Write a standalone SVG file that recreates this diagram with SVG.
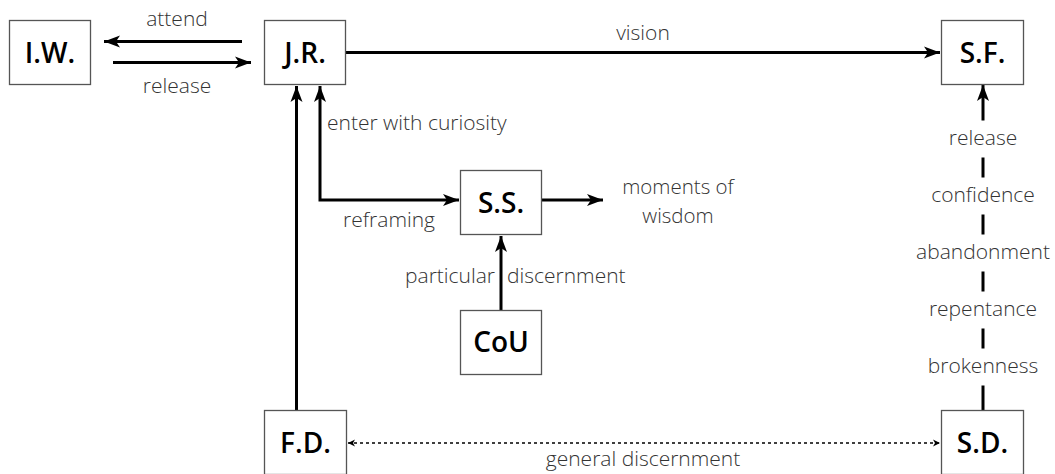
<svg xmlns="http://www.w3.org/2000/svg" width="1055" height="474" viewBox="0 0 1055 474">
<style>
.box{fill:#fff;stroke:#555;stroke-width:1.3}
.nt{font-family:"Open Sans","Liberation Sans",sans-serif;font-weight:600;font-size:28px;fill:#000;text-anchor:middle}
.lb{font-family:"Open Sans","Liberation Sans",sans-serif;font-weight:300;font-size:21px;fill:#333}
.c{stroke:#000;stroke-width:3;fill:none}
.d{stroke:#000;stroke-width:1.3;fill:none;stroke-dasharray:3 3}
</style>
<defs>
<marker id="ah" markerUnits="userSpaceOnUse" markerWidth="20" markerHeight="16" viewBox="-17 -8 20 16" refX="0" refY="0" orient="auto-start-reverse">
<path d="M0,0 L-16,-6 L-12,0 L-16,6 Z" fill="#000"/>
</marker>
<marker id="as" markerUnits="userSpaceOnUse" markerWidth="10" markerHeight="8" viewBox="-8 -4 10 8" refX="0" refY="0" orient="auto-start-reverse">
<path d="M0,0 L-7,-3.5 L-5,0 L-7,3.5 Z" fill="#000"/>
</marker>
</defs>
<g id="connectors">
<path class="c" d="M242,41.5 L104,41.5" marker-end="url(#ah)"/>
<path class="c" d="M113,62.5 L251,62.5" marker-end="url(#ah)"/>
<path class="c" d="M346,52.5 L940,52.5" marker-end="url(#ah)"/>
<path class="c" d="M296.5,410 L296.5,86" marker-end="url(#ah)"/>
<path class="c" d="M320,86 L320,200 L459,200" marker-start="url(#ah)" marker-end="url(#ah)"/>
<path class="c" d="M542,200 L603,200" marker-end="url(#ah)"/>
<path class="c" d="M501,310 L501,236" marker-end="url(#ah)"/>
<path class="c" d="M983,410 L983,385.5 M983,348.5 L983,328.5 M983,291.5 L983,271.5 M983,234.5 L983,214.5 M983,177.5 L983,157.5 M983,120.5 L983,85" marker-end="url(#ah)"/>
<path class="d" d="M348,443 L940,443" marker-start="url(#as)" marker-end="url(#as)"/>
<text class="lb" x="177" y="26" text-anchor="middle">attend</text>
<text class="lb" x="177" y="93" text-anchor="middle">release</text>
<text class="lb" x="643" y="40" text-anchor="middle">vision</text>
<text class="lb" x="327" y="130">enter with curiosity</text>
<text class="lb" x="435" y="227" text-anchor="end">reframing</text>
<text class="lb" text-anchor="middle" style="font-size:20.5px"><tspan x="678" y="194">moments of</tspan><tspan x="678" y="222.5">wisdom</tspan></text>
<text class="lb" x="495" y="283" text-anchor="end">particular</text>
<text class="lb" x="507" y="283">discernment</text>
<text class="lb" x="643" y="466" text-anchor="middle">general discernment</text>
<text class="lb" x="983" y="145" text-anchor="middle">release</text>
<text class="lb" x="983" y="202" text-anchor="middle">confidence</text>
<text class="lb" x="983" y="259" text-anchor="middle">abandonment</text>
<text class="lb" x="983" y="316" text-anchor="middle">repentance</text>
<text class="lb" x="983" y="373" text-anchor="middle">brokenness</text>
</g>
<g id="IW"><rect class="box" x="9.5" y="20.5" width="81" height="64"/><text class="nt" x="50" y="63">I.W.</text></g>
<g id="JR"><rect class="box" x="264.5" y="20.5" width="81" height="64"/><text class="nt" x="305" y="63">J.R.</text></g>
<g id="SF"><rect class="box" x="941.5" y="20.5" width="82" height="64"/><text class="nt" x="982.5" y="63">S.F.</text></g>
<g id="SS"><rect class="box" x="460.5" y="170.5" width="81" height="64"/><text class="nt" x="501" y="213">S.S.</text></g>
<g id="CoU"><rect class="box" x="460.5" y="310.5" width="81" height="64"/><text class="nt" x="501" y="352">CoU</text></g>
<g id="FD"><rect class="box" x="264.5" y="410.5" width="82" height="64"/><text class="nt" x="305.5" y="453">F.D.</text></g>
<g id="SD"><rect class="box" x="941.5" y="410.5" width="82" height="64"/><text class="nt" x="982.5" y="453">S.D.</text></g>
</svg>
